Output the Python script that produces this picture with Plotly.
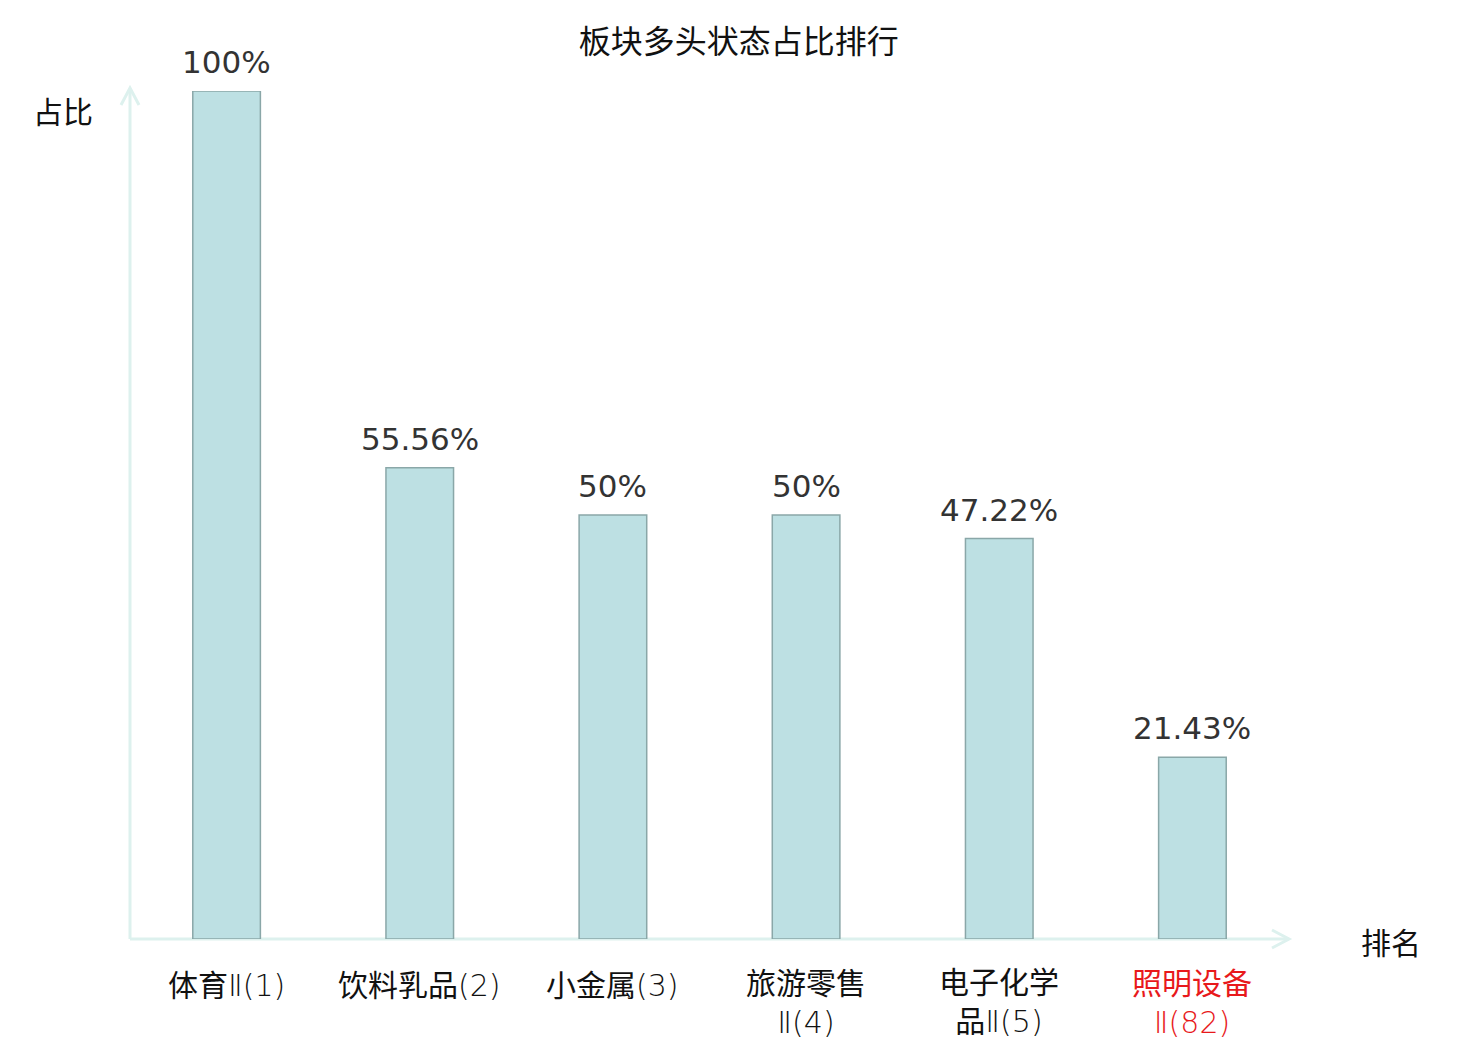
import plotly.graph_objects as go

# data
categories = ["体育Ⅱ(1)", "饮料乳品(2)", "小金属(3)", "旅游零售<br>Ⅱ(4)", "电子化学<br>品Ⅱ(5)", "照明设备<br>Ⅱ(82)"]
ratios = [100, 55.56, 50, 50, 47.22, 21.43]
value_labels = ["100%", "55.56%", "50%", "50%", "47.22%", "21.43%"]
highlight = [False, False, False, False, False, True]

CJK = "Noto Sans CJK SC"
AXIS_COLOR = "#ddf1ee"
W, H = 1472, 1032  # page adds an 8px body margin

xpos = list(range(len(categories)))


def thin_latin(s):
    # the roman numeral and the "(n)" part are drawn in a lighter, narrower face
    out = ""
    for ch in s:
        if ch.isascii() or ch == "Ⅱ":
            out += f'<span style="font-family:\'DejaVu Sans\';font-weight:200">{ch}</span>'
        else:
            out += ch
    return out


fig = go.Figure()
fig.add_trace(
    go.Bar(
        x=xpos,
        y=ratios,
        width=0.35,
        marker=dict(color="#bde0e3", line=dict(color="#8aa7a8", width=1.5)),
        hoverinfo="skip",
    )
)

# value labels above the bars
for xi, v, lab in zip(xpos, ratios, value_labels):
    fig.add_annotation(x=xi, y=v, text=lab, showarrow=False, yanchor="middle", yshift=29,
                       font=dict(family="DejaVu Sans", size=31, color="#333333"))

# category labels under the axis
for xi, cat, hl in zip(xpos, categories, highlight):
    color = "#e8191b" if hl else "#111111"
    lines = cat.split("<br>")
    fig.add_annotation(x=xi, y=0, text="<br>".join(thin_latin(l) for l in lines),
                       showarrow=False, yanchor="middle",
                       yshift=-44 - 16 * (len(lines) - 1),
                       font=dict(family=CJK, size=30, color=color))

# axis lines with open arrowheads
fig.add_shape(type="line", xref="paper", yref="paper", x0=0, x1=1, y0=0, y1=0,
              line=dict(color=AXIS_COLOR, width=3), layer="below")
fig.add_shape(type="line", xref="paper", yref="paper", x0=0, x1=0, y0=0, y1=1.003,
              line=dict(color=AXIS_COLOR, width=3), layer="below")
fig.add_shape(type="path", xref="paper", yref="paper", xsizemode="pixel", ysizemode="pixel",
              xanchor=1, yanchor=0, path="M -17,9 L 0,0 L -17,-9",
              line=dict(color=AXIS_COLOR, width=3))
fig.add_shape(type="path", xref="paper", yref="paper", xsizemode="pixel", ysizemode="pixel",
              xanchor=0, yanchor=1, path="M -9,-14 L 0,3 L 9,-14",
              line=dict(color=AXIS_COLOR, width=3))

fig.add_annotation(text="占比", xref="paper", yref="paper", x=-0.058, y=0.978,
                   xanchor="center", yanchor="middle", showarrow=False,
                   font=dict(family=CJK, size=30, color="#111111"))
fig.add_annotation(text="排名", xref="paper", yref="paper", x=1.088, y=-0.002,
                   xanchor="center", yanchor="middle", showarrow=False,
                   font=dict(family=CJK, size=30, color="#111111"))

fig.update_layout(
    width=W,
    height=H,
    margin=dict(l=122, r=191, t=83, b=101),
    paper_bgcolor="white",
    plot_bgcolor="white",
    showlegend=False,
    title=dict(text="板块多头状态占比排行", x=0.4965, xref="container", xanchor="center",
               y=1 - 34 / H, yref="container", yanchor="middle",
               font=dict(family=CJK, size=32, color="#111111")),
    xaxis=dict(range=[-0.5, 5.5], showgrid=False, zeroline=False, showline=False,
               showticklabels=False, ticks=""),
    yaxis=dict(range=[0, 100], showgrid=False, zeroline=False, showline=False,
               showticklabels=False, ticks=""),
)

fig.write_html("out.html")
